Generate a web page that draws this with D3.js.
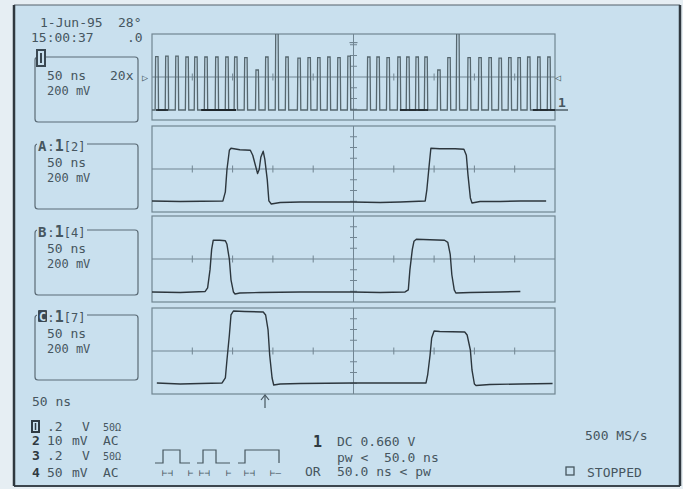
<!DOCTYPE html>
<html><head><meta charset="utf-8">
<script src="https://cdn.jsdelivr.net/npm/d3@7"></script>
<style>
html,body{margin:0;padding:0;background:#e6eef3}
svg{display:block}
text{font-family:"DejaVu Sans Mono",monospace;fill:#46565f;white-space:pre}
</style></head><body>
<svg id="c" width="683" height="489"></svg>
<script>
// Top (zoomed-out) trace: 1 µs / div, 10 divisions
const pulseTimes   = [0.12,0.37,0.62,0.87,1.09,1.34,1.61,1.86,2.08,2.33,2.61,2.85,3.10,3.35,3.65,3.90,4.14,4.39,4.64,4.89,5.38,5.61,5.86,6.13,6.35,6.58,6.80,7.12,7.37,7.59,7.87,8.14,8.39,8.64,8.88,9.11,9.35,9.60,9.85];
const pulseHeights = [380,390,390,372,372,372,372,372,372,360,130,372,820,372,350,360,360,372,360,390,372,372,360,372,372,372,372,130,360,820,360,360,360,350,360,360,372,372,372]; // mV
const topBaseline = -614; // mV
const intenseStart = [0.10,1.22,6.15,9.45];
const intenseEnd   = [0.40,2.09,6.85,10.0];

// Zoom traces A, B, C: 50 ns / div, 200 mV / div
const timeA  = [0,35,88,91,93,96,98,109,122,125,129,131,133,135,138,140,143,145,148,159,184,208,249,283,308,339,341,344,346,357,376,387,390,392,395,397,407,432,457,489];
const voltsA = [-594,-604,-594,-425,-9,349,387,359,349,255,28,-85,-9,217,330,179,-198,-594,-651,-623,-613,-613,-613,-623,-613,-594,-387,85,387,377,377,368,255,-104,-538,-632,-604,-604,-594,-594];
const timeB  = [0,35,66,69,72,74,76,84,91,93,96,98,101,103,109,134,184,249,283,314,318,320,323,325,328,345,363,367,370,372,375,377,395,432,457];
const voltsB = [-613,-623,-604,-538,-198,179,349,349,340,274,-9,-387,-613,-651,-632,-623,-613,-613,-623,-613,-575,-198,179,330,368,359,349,311,85,-293,-575,-632,-623,-613,-604];
const timeC  = [6,35,60,87,91,93,96,98,101,115,138,141,144,146,149,151,159,184,249,308,340,342,345,347,350,357,388,391,395,397,400,402,419,457,497];
const voltsC = [-595,-614,-605,-595,-502,-167,298,670,744,735,725,670,391,-74,-502,-632,-614,-605,-595,-595,-595,-446,-74,242,372,363,353,298,19,-353,-614,-642,-623,-614,-605];

const panelLabels = ["A","B","C"];
const panelSources = ["[2]","[4]","[7]"];
const channels = ["1","2","3","4"];
const chanScale = [".2","10",".2","50"];
const chanUnit = ["V","mV","V","mV"];
const chanCoupling = ["50Ω","AC","50Ω","AC"];

// ---------- LAYOUT ----------
const svg = d3.select("#c");
const BG = "#c9e0ee", INK = "#46565f", GRID = "#718592", TRACE = "#2c363d";
const X0 = 152, X1 = 555, H = 86;
const tops = [34, 126, 216, 308];

// frame
svg.append("rect").attr("x",14).attr("y",5).attr("width",666).attr("height",481).attr("fill",BG);
svg.append("line").attr("x1",14).attr("x2",680).attr("y1",5).attr("y2",5).attr("stroke","#55606a").attr("stroke-width",1.2);
svg.append("line").attr("x1",14).attr("x2",680).attr("y1",486).attr("y2",486).attr("stroke","#3c464e").attr("stroke-width",2);
svg.append("line").attr("x1",14).attr("x2",14).attr("y1",5).attr("y2",486).attr("stroke","#2f383f").attr("stroke-width",2.5);
svg.append("line").attr("x1",680).attr("x2",680).attr("y1",5).attr("y2",486).attr("stroke","#2f383f").attr("stroke-width",2.5);

const defs = svg.append("defs");

function panel(i, xDomain){
  const top = tops[i];
  const x = d3.scaleLinear().domain(xDomain).range([X0, X1]);
  const y = d3.scaleLinear().domain([-800, 800]).range([top + H, top]);
  const g = svg.append("g");
  defs.append("clipPath").attr("id","clip"+i).append("rect").attr("x",X0).attr("y",top).attr("width",X1-X0).attr("height",H);
  g.append("rect").attr("x",X0).attr("y",top).attr("width",X1-X0).attr("height",H)
    .attr("fill","none").attr("stroke",GRID).attr("stroke-width",1.2);
  const yc = y(0), xc = x((xDomain[0]+xDomain[1])/2);
  g.append("line").attr("x1",X0).attr("x2",X1).attr("y1",yc).attr("y2",yc).attr("stroke",GRID);
  g.append("line").attr("x1",xc).attr("x2",xc).attr("y1",top).attr("y2",top+H).attr("stroke",GRID);
  const xt = d3.range(1,10).map(k => xDomain[0] + k*(xDomain[1]-xDomain[0])/10);
  g.selectAll(".xt").data(xt).enter().append("line")
    .attr("x1",d=>x(d)).attr("x2",d=>x(d)).attr("y1",yc-3.5).attr("y2",yc+3.5).attr("stroke",GRID);
  const yt = [-600,-400,-200,200,400,600];
  g.selectAll(".yt").data(yt).enter().append("line")
    .attr("x1",xc-3.5).attr("x2",xc+3.5).attr("y1",d=>y(d)).attr("y2",d=>y(d)).attr("stroke",GRID);
  return {x, y, g, top};
}

// --- top panel
const p0 = panel(0, [0, 10]);
const pts = [[0, topBaseline]];
pulseTimes.forEach((t, i) => {
  const h = pulseHeights[i], hw = 0.03, e = 0.012;
  pts.push([t-hw-e, topBaseline],[t-hw, h],[t+hw, h],[t+hw+e, topBaseline]);
});
pts.push([10, topBaseline]);
p0.g.append("path").datum(pts).attr("clip-path","url(#clip0)")
  .attr("d", d3.line().x(d=>p0.x(d[0])).y(d=>p0.y(d[1])))
  .attr("fill","none").attr("stroke","#56676f").attr("stroke-width",1.3);
p0.g.selectAll(".int").data(intenseStart).enter().append("line")
  .attr("x1",d=>p0.x(d)).attr("x2",(d,i)=>p0.x(intenseEnd[i]))
  .attr("y1",p0.y(topBaseline)).attr("y2",p0.y(topBaseline))
  .attr("stroke","#1f272c").attr("stroke-width",1.8);
// trigger marker
p0.g.append("line").attr("x1",p0.x(5)-4).attr("x2",p0.x(5)+4).attr("y1",p0.y(640)).attr("y2",p0.y(640)).attr("stroke",GRID).attr("stroke-width",1.2);
svg.append("text").attr("x",142).attr("y",81).attr("font-size",10).text("▷");
svg.append("text").attr("x",555).attr("y",81).attr("font-size",10).text("◁");
svg.append("text").attr("x",558).attr("y",107).attr("font-size",13).attr("font-weight","bold").text("1");
svg.append("line").attr("x1",555).attr("x2",568).attr("y1",p0.y(topBaseline)).attr("y2",p0.y(topBaseline)).attr("stroke",INK).attr("stroke-width",1.4);

// --- zoom panels
[[timeA,voltsA],[timeB,voltsB],[timeC,voltsC]].forEach((tv, k) => {
  const p = panel(k+1, [0, 500]);
  const data = tv[0].map((t, i) => [t, tv[1][i]]);
  p.g.append("path").datum(data).attr("clip-path","url(#clip"+(k+1)+")")
    .attr("d", d3.line().x(d=>p.x(d[0])).y(d=>p.y(d[1])))
    .attr("fill","none").attr("stroke",TRACE).attr("stroke-width",1.4).attr("stroke-linejoin","round");
});
// arrow under C
svg.append("line").attr("x1",265).attr("x2",265).attr("y1",396).attr("y2",408).attr("stroke",INK).attr("stroke-width",1.2);
svg.append("path").attr("d","M261,400 L265,395 L269,400").attr("fill","none").attr("stroke",INK).attr("stroke-width",1.2);

// ---------- left text ----------
function txt(x, y, s, size, weight){
  return svg.append("text").attr("x",x).attr("y",y).attr("font-size",size||13).attr("font-weight",weight||"normal").text(s);
}
txt(40,27,"1-Jun-95"); txt(118,27,"28°");
txt(31,42,"15:00:37"); txt(127,42,".0");

// box 1
svg.append("rect").attr("x",35).attr("y",57).attr("width",103).attr("height",65).attr("rx",3).attr("fill","none").attr("stroke","#5b6b76").attr("stroke-width",1.2);
svg.append("rect").attr("x",37).attr("y",50).attr("width",8).attr("height",16).attr("fill",BG).attr("stroke","#3a4852").attr("stroke-width",2);
svg.append("line").attr("x1",41).attr("x2",41).attr("y1",53).attr("y2",63).attr("stroke","#3a4852").attr("stroke-width",2);
txt(47,80,"50 ns"); txt(110,80,"20x");
txt(47,95,"200 mV",12);

const boxTops = [144, 230, 315];
boxTops.forEach((bt, k) => {
  svg.append("rect").attr("x",35).attr("y",bt).attr("width",103).attr("height",65).attr("rx",3).attr("fill","none").attr("stroke","#5b6b76").attr("stroke-width",1.2);
  svg.append("rect").attr("x",37).attr("y",bt-6).attr("width",50).attr("height",12).attr("fill",BG);
  if (k === 2){
    svg.append("rect").attr("x",38).attr("y",bt-5).attr("width",9).attr("height",12).attr("rx",1).attr("fill","#3a4852");
    svg.append("text").attr("x",39).attr("y",bt+6).attr("font-size",12).attr("font-weight","bold").style("fill",BG).text(panelLabels[k]);
  } else {
    txt(38, bt+7, panelLabels[k], 14, "bold");
  }
  const t = svg.append("text").attr("x",47).attr("y",bt+7).attr("font-size",13);
  t.append("tspan").text(":");
  t.append("tspan").attr("font-weight","bold").attr("font-size",15).text("1");
  t.append("tspan").attr("font-size",12).text(panelSources[k]);
  txt(47, bt+23, "50 ns");
  txt(47, bt+38, "200 mV", 12);
});

txt(32,406,"50 ns");
const rowY = [431, 445, 460, 477];
channels.forEach((c, i) => {
  if (i === 0){
    svg.append("rect").attr("x",32).attr("y",rowY[i]-10).attr("width",7).attr("height",11).attr("fill","none").attr("stroke","#2f3a42").attr("stroke-width",2);
    svg.append("line").attr("x1",35.5).attr("x2",35.5).attr("y1",rowY[i]-8).attr("y2",rowY[i]-1).attr("stroke","#2f3a42").attr("stroke-width",1.5);
  } else {
    txt(32, rowY[i], c, 13, "bold").style("fill","#2f3a42");
  }
  txt(47, rowY[i], chanScale[i]);
  txt(chanUnit[i] === "V" ? 82 : 72, rowY[i], chanUnit[i]);
  txt(103, rowY[i], chanCoupling[i], chanCoupling[i] === "AC" ? 13 : 10);
});

// trigger pulse icons
const icon = "M155,463 H163 V450 H180 V463 H190 M197,463 H203 V450 H216 V463 H230 M238,463 H245 V450 H279 V463";
svg.append("path").attr("d",icon).attr("fill","none").attr("stroke",INK).attr("stroke-width",1.2);
[[163,175],[200,212],[245,257]].forEach(d => txt(d[0]-1, 476, "⊢⊣", 9));
[188, 226, 270].forEach(x => txt(x, 476, x===270 ? "⊢–" : "⊢", 9));

// trigger text
txt(313,447,"1",15,"bold").style("fill","#2f3a42");
txt(337,446,"DC 0.660 V");
txt(337,462,"pw <  50.0 ns");
txt(305,476,"OR"); txt(337,476,"50.0 ns < pw");
txt(585,440,"500 MS/s");
svg.append("rect").attr("x",566).attr("y",467).attr("width",8).attr("height",8).attr("fill","none").attr("stroke",INK).attr("stroke-width",1.3);
txt(587,477,"STOPPED");
</script></body></html>
